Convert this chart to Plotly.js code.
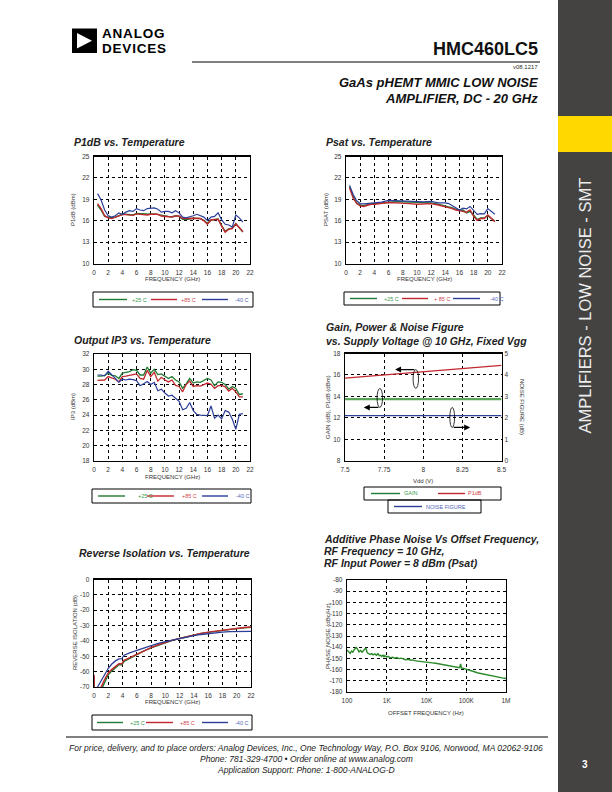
<!DOCTYPE html>
<html><head><meta charset="utf-8">
<script src="https://cdn.plot.ly/plotly-3.0.1.min.js"></script>
<style>html,body{margin:0;padding:0;background:#fff}#page{width:612px;height:792px}</style>
</head><body><div id="page"></div>
<script>
// ---------------- DATA ----------------
const tempNames = ['+25 C', '+85 C', '-40 C'];

// P1dB vs Temperature (GHz, dBm)
const p1Freq = [0.5,1,1.5,2,2.5,3,3.5,4,4.5,5,5.5,6,6.5,7,7.5,8,8.5,9,9.5,10,10.5,11,11.5,12,12.5,13,13.5,14,14.5,15,15.5,16,16.5,17,17.5,18,18.5,19,19.5,20,20.5,21];
const p1_25 = [18.2,17.5,16.6,16.5,16.4,16.5,16.7,16.9,16.9,16.85,16.8,17.0,16.95,16.9,16.85,16.9,16.95,16.85,16.7,16.6,16.6,16.55,16.7,16.6,16.2,16.15,16.3,16.35,16.35,16.3,16.05,15.6,16.1,16.15,16.25,15.3,14.5,14.85,14.95,15.6,15.05,14.4];
const p1_85 = [18.4,17.7,16.7,16.4,16.3,16.45,16.65,16.85,16.85,16.75,16.75,16.95,16.9,16.85,16.8,16.9,16.9,16.9,16.65,16.55,16.55,16.5,16.65,16.65,16.3,16.3,16.35,16.35,16.3,16.3,16.0,15.5,16.1,16.1,16.2,15.25,14.4,14.8,14.9,15.55,15.0,14.5];
const p1_m40 = [19.8,18.9,17.5,16.7,16.5,16.7,17.1,16.9,17.2,17.4,17.3,17.7,17.5,17.4,17.7,17.7,17.8,17.6,17.2,17.3,17.3,17.1,17.4,17.1,16.5,16.4,16.5,16.7,16.9,16.7,16.5,16.0,16.5,16.6,17.1,16.1,15.5,15.4,15.1,16.8,16.4,15.8];

// Psat vs Temperature
const psFreq = [0.5,1,1.5,2,2.5,3,3.5,4,5,6,7,8,9,10,11,12,13,14,14.5,15,15.5,16,16.5,17,17.5,18,18.5,19,19.5,20,20.5,21];
const ps_25 = [20.8,19.4,18.5,18.2,18.1,18.3,18.4,18.4,18.5,18.65,18.65,18.65,18.6,18.5,18.45,18.5,18.3,18.1,18.0,17.8,17.6,17.45,17.5,17.1,17.3,16.8,16.15,16.4,16.4,16.7,16.3,15.95];
const ps_85 = [20.6,19.2,18.4,18.1,18.0,18.2,18.3,18.3,18.4,18.55,18.5,18.5,18.4,18.3,18.3,18.4,18.2,18.0,17.9,17.7,17.5,17.35,17.3,17.2,17.5,16.6,16.05,16.3,16.3,16.8,16.3,15.85];
const ps_m40 = [20.95,19.7,18.8,18.4,18.35,18.4,18.55,18.55,18.6,18.85,18.8,18.8,18.8,18.7,18.65,18.7,18.5,18.5,18.4,18.1,17.8,17.5,17.75,17.65,18.0,17.45,16.9,17.0,16.95,17.7,17.35,16.9];

// Output IP3 vs Temperature
const ipFreq = [0.5,1,1.5,2,2.5,3,3.5,4,4.5,5,5.5,6,6.5,7,7.5,8,8.5,9,9.5,10,10.5,11,11.5,12,12.5,13,13.5,14,14.5,15,16,16.5,17,17.5,18,18.5,19,19.5,20,20.5,21];
const ip_25 = [29.1,29.1,29.2,29.5,29.2,29.15,28.8,29.5,29.6,29.7,29.95,29.85,29.25,29.25,30.3,29.5,30.0,29.3,29.4,29.1,28.8,29.05,28.6,28.35,27.5,28.1,28.8,28.2,28.35,28.3,28.8,28.6,27.85,28.35,28.3,28.0,27.4,27.75,27.5,26.7,26.8];
const ip_85 = [28.55,28.55,28.6,29.05,28.9,28.7,28.35,29.05,29.1,29.25,29.3,29.4,28.8,28.7,29.85,29.05,29.6,28.45,28.95,28.6,28.35,28.6,27.9,27.75,27.05,28.0,28.45,27.75,27.85,27.8,28.2,28.05,27.5,27.85,27.9,27.7,27.15,27.5,27.05,26.4,26.4];
const ip_m40 = [29.25,29.25,29.15,29.75,29.3,28.8,28.3,28.7,28.6,28.7,28.65,28.5,27.85,28.1,28.4,28.0,28.3,27.2,27.4,26.9,26.5,26.6,26.2,25.8,24.7,24.9,25.65,24.6,24.1,24.0,23.95,25.2,23.6,24.0,23.5,24.6,24.4,23.5,22.15,24.1,24.2];

// Gain, Power & Noise Figure vs Supply Voltage
const vdd = [7.5, 7.75, 8.0, 8.25, 8.5];
const vddTickText = ['7.5', '7.75', '8', '8.25', '8.5'];
const gainDb = [13.75, 13.75, 13.75, 13.75, 13.75];
const p1dbDbm = [15.7, 16.0, 16.3, 16.6, 16.9];
const nfDb = [2.1, 2.1, 2.1, 2.1, 2.1];
const gainNames = ['GAIN', 'P1dB', 'NOISE FIGURE'];

// Reverse Isolation vs Temperature
const riFreq_25 = [0,0.05,1.0,1.2,1.5,2,2.5,3,3.5,3.9,4.2,4.5,5,6,7,8,9,10,11,12,13,14,15,16,17,18,19,20,21,22];
const ri_25 = [-63,-76,-76,-70,-67,-62,-59.5,-57.4,-55.5,-55.6,-53.5,-52.6,-51.4,-48.7,-46.5,-44.5,-42.7,-41.1,-39.6,-38.4,-37.2,-36.2,-35.2,-34.4,-33.7,-33.1,-32.5,-32.0,-31.5,-31.1];
const riFreq_85 = [0,0.05,0.8,1.0,1.5,2,2.5,3,3.5,3.9,4.2,4.5,5,6,7,8,9,10,11,12,13,14,15,16,17,18,19,20,21,22];
const ri_85 = [-62,-76,-76,-70,-65,-60.9,-58.5,-56.5,-54.8,-54.9,-52.6,-52.0,-50.9,-48.3,-46.2,-44.3,-42.5,-40.9,-39.5,-38.3,-37.1,-36.1,-35.1,-34.3,-33.6,-33.0,-32.3,-31.7,-31.3,-30.9];
const riFreq_m40 = [0.5,1,1.5,2,2.5,3,3.5,3.9,4.2,4.5,5,6,7,8,9,10,11,12,13,14,15,16,17,18,19,20,21,22];
const ri_m40 = [-70,-65.7,-61.3,-57.8,-55,-53,-51.7,-51.6,-49.3,-48.6,-47.8,-46.1,-44.5,-43,-41.6,-40.4,-39.3,-38.3,-37.4,-36.5,-35.8,-35.2,-34.7,-34.3,-34.0,-33.9,-33.8,-33.8];
const riTickVals = [0, -10, -20, -30, -40, -50, -60, -70];
const riTickText = ['0', '-10', '-20', '-30', '-40', '-50', '-60', '-70'];

// Additive phase noise (Hz, dBc/Hz)
const pnFreq = [100,110,120,130,140,150,160,170,180,190,200,220,240,260,280,300,320,350,380,420,450,500,550,600,650,700,750,800,850,900,1000,1100,1200,1400,1600,1800,2000,2300,2600,3000,3500,4000,4500,5000,6000,7000,8000,9000,10000,12000,14000,17000,20000,23000,26000,30000,35000,40000,45000,50000,56000,62000,68000,72000,76000,85000,100000,130000,160000,200000,250000,300000,400000,500000,650000,800000,1000000];
const pnVal = [-142.5,-144.5,-145.5,-143.5,-144.5,-142.5,-141.5,-140.2,-141,-143.5,-144.2,-143,-144.5,-143,-141.5,-140.6,-144.8,-145.5,-146.5,-145.8,-146.8,-146,-147.2,-145.8,-147.5,-147.2,-148.3,-146.8,-148.8,-147.5,-148.8,-148.2,-149.5,-149,-149.8,-149.3,-150.2,-149.8,-150.6,-151.2,-150.8,-151.6,-151.3,-152,-152.4,-152.8,-152.5,-153.2,-153.1,-153.6,-154,-154.3,-154.8,-155.1,-155.5,-156,-156.3,-156.7,-157.1,-157.2,-157.8,-157.6,-158.2,-155,-158.6,-158.9,-159.5,-160.8,-161.9,-163,-163.8,-164.3,-165.4,-166,-166.8,-167.4,-167.9];
const pnTickVals = [100, 1000, 10000, 100000, 1000000];
const pnTickText = ['100', '1K', '10K', '100K', '1M'];
const pnYTickVals = [-80, -90, -100, -110, -120, -130, -140, -150, -160, -170, -180];
const pnYTickText = ['-80', '-90', '-100', '-110', '-120', '-130', '-140', '-150', '-160', '-170', '-180'];

// ---------------- LAYOUT HELPERS ----------------
const W = 612, H = 792;
const X = p => p / W, Y = p => 1 - p / H;
const F = 'Liberation Sans, Arial, Helvetica, sans-serif';
const GREEN = '#1f7a32', RED = '#c1272d', BLUE = '#2c3e98';
const GREEN_T = '#3a9a4a', RED_T = '#d0454a', BLUE_T = '#5466b8';
const tickF = {family: F, size: 6.5, color: '#333'};

function dom(px0, px1, py0, py1) { return {x: [X(px0), X(px1)], y: [Y(py1), Y(py0)]}; }
function ax(domain, anchor, extra) {
  return Object.assign({domain: domain, anchor: anchor, showline: true, mirror: true, linecolor: '#000', linewidth: 1.3,
    showgrid: true, gridcolor: '#000', gridwidth: 1, griddash: 'dot', zeroline: false, ticks: '',
    tickfont: tickF, fixedrange: true, ticklabelstandoff: 2}, extra);
}

const traces = [];
function addLine(x, y, xa, ya, color, width, name) {
  traces.push({type: 'scatter', mode: 'lines', x: x, y: y, xaxis: xa, yaxis: ya, name: name,
    line: {color: color, width: width}, hoverinfo: 'skip', showlegend: false});
}

// chart frames (pixel boxes)
const d1 = dom(94, 250, 156.5, 263.5);
const d2 = dom(346, 502, 156.5, 263.5);
const d3 = dom(94, 250, 354, 461);
const d4 = dom(345, 501.5, 353.5, 460.7);
const d5 = dom(94, 251, 579.5, 687);
const d6 = dom(347, 506, 580, 692);

const layout = {
  width: W, height: H, margin: {l: 0, r: 0, t: 0, b: 0},
  paper_bgcolor: '#fff', plot_bgcolor: '#fff', showlegend: false,
  font: {family: F},
  xaxis: ax(d1.x, 'y', {range: [0, 22], dtick: 2, tick0: 0}),
  yaxis: ax(d1.y, 'x', {range: [10, 25], dtick: 3, tick0: 10}),
  xaxis2: ax(d2.x, 'y2', {range: [0, 22], dtick: 2, tick0: 0}),
  yaxis2: ax(d2.y, 'x2', {range: [10, 25], dtick: 3, tick0: 10}),
  xaxis3: ax(d3.x, 'y3', {range: [0, 22], dtick: 2, tick0: 0}),
  yaxis3: ax(d3.y, 'x3', {range: [18, 32], dtick: 2, tick0: 18}),
  xaxis4: ax(d4.x, 'y4', {range: [7.5, 8.5], tickvals: vdd, ticktext: vddTickText}),
  yaxis4: ax(d4.y, 'x4', {range: [8, 18], dtick: 2, tick0: 8}),
  yaxis7: ax(d4.y, 'x4', {range: [0, 5], dtick: 1, tick0: 0, overlaying: 'y4', side: 'right', showgrid: false, showline: false}),
  xaxis5: ax(d5.x, 'y5', {range: [0, 22], dtick: 2, tick0: 0}),
  yaxis5: ax(d5.y, 'x5', {range: [-70, 0], tickvals: riTickVals, ticktext: riTickText}),
  xaxis6: ax(d6.x, 'y6', {type: 'log', range: [2, 6], tickvals: pnTickVals, ticktext: pnTickText}),
  yaxis6: ax(d6.y, 'x6', {range: [-180, -80], tickvals: pnYTickVals, ticktext: pnYTickText}),
  shapes: [], annotations: []
};

// ---------------- TRACES ----------------
addLine(p1Freq, p1_25, 'x', 'y', GREEN, 1.4, tempNames[0]);
addLine(p1Freq, p1_85, 'x', 'y', RED, 1.4, tempNames[1]);
addLine(p1Freq, p1_m40, 'x', 'y', BLUE, 1.2, tempNames[2]);

addLine(psFreq, ps_25, 'x2', 'y2', GREEN, 1.4, tempNames[0]);
addLine(psFreq, ps_85, 'x2', 'y2', RED, 1.4, tempNames[1]);
addLine(psFreq, ps_m40, 'x2', 'y2', BLUE, 1.2, tempNames[2]);

addLine(ipFreq, ip_25, 'x3', 'y3', GREEN, 1.3, tempNames[0]);
addLine(ipFreq, ip_85, 'x3', 'y3', RED, 1.3, tempNames[1]);
addLine(ipFreq, ip_m40, 'x3', 'y3', BLUE, 1.2, tempNames[2]);

addLine(vdd, gainDb, 'x4', 'y4', '#5aa55a', 2.2, gainNames[0]);
addLine(vdd, p1dbDbm, 'x4', 'y4', RED, 1.3, gainNames[1]);
addLine(vdd, nfDb, 'x4', 'y7', BLUE, 1.3, gainNames[2]);

addLine(riFreq_25, ri_25, 'x5', 'y5', GREEN, 1.4, tempNames[0]);
addLine(riFreq_85, ri_85, 'x5', 'y5', RED, 1.4, tempNames[1]);
addLine(riFreq_m40, ri_m40, 'x5', 'y5', BLUE, 1.3, tempNames[2]);

addLine(pnFreq, pnVal, 'x6', 'y6', '#2a8a2a', 1.4, 'Phase Noise');

// ---------------- DECORATION ----------------
const S = layout.shapes, A = layout.annotations;
function rect(x0, y0, x1, y1, fill, lineColor, lw) {
  S.push({type: 'rect', xref: 'paper', yref: 'paper', x0: X(x0), x1: X(x1), y0: Y(y1), y1: Y(y0),
    fillcolor: fill || 'rgba(0,0,0,0)', line: {color: lineColor || 'rgba(0,0,0,0)', width: lw || 0}, layer: 'above'});
}
function hline(x0, x1, y, color, w) {
  S.push({type: 'line', xref: 'paper', yref: 'paper', x0: X(x0), x1: X(x1), y0: Y(y), y1: Y(y), line: {color: color, width: w}});
}
function txt(text, x, y, size, opts) {
  A.push(Object.assign({text: text, x: X(x), y: Y(y), xref: 'paper', yref: 'paper', showarrow: false,
    xanchor: 'left', yanchor: 'middle', font: {family: F, size: size, color: '#222'}}, opts || {}));
}

// sidebar
rect(558, 0, 612, 792, '#444342');
rect(558, 116, 612, 152, '#ffd800');
txt('AMPLIFIERS - LOW NOISE - SMT', 584.5, 306, 16.5, {xanchor: 'center', textangle: -90, font: {family: F, size: 16.5, color: '#ececec'}});
txt('<b>3</b>', 585, 764, 10, {xanchor: 'center', font: {family: F, size: 10, color: '#fff'}});

// header
rect(72, 28.5, 97, 53, '#000');
S.push({type: 'path', xref: 'paper', yref: 'paper', fillcolor: '#fff', line: {width: 0},
  path: 'M' + X(77) + ',' + Y(33) + ' L' + X(92) + ',' + Y(40.75) + ' L' + X(77) + ',' + Y(48.5) + ' Z'});
const logoF = {family: F, size: 13.5, color: '#000'};
txt('<b><span style="letter-spacing:0.8px">ANALOG</span></b>', 100, 33.5, 13.5, {font: logoF});
txt('<b><span style="letter-spacing:0.8px">DEVICES</span></b>', 100, 49, 13.5, {font: logoF});
txt('<b>HMC460LC5</b>', 540, 49, 18, {xanchor: 'right', font: {family: F, size: 18, color: '#111'}});
hline(192, 540, 62, '#000', 1);
txt('v08.1217', 540, 67.5, 6, {xanchor: 'right', font: {family: F, size: 6, color: '#333'}});
txt('<b><i>GaAs pHEMT MMIC LOW NOISE</i></b>', 540, 82, 13, {xanchor: 'right', font: {family: F, size: 13, color: '#111'}});
txt('<b><i>AMPLIFIER, DC - 20 GHz</i></b>', 540, 98.5, 13, {xanchor: 'right', font: {family: F, size: 13, color: '#111'}});

// chart titles
const tF = 10.5;
txt('<b><i>P1dB vs. Temperature</i></b>', 72, 142, tF);
txt('<b><i>Psat vs. Temperature</i></b>', 324, 142, tF);
txt('<b><i>Output IP3 vs. Temperature</i></b>', 72, 340, tF);
txt('<b><i>Gain, Power &amp; Noise Figure</i></b>', 324, 327, tF);
txt('<b><i>vs. Supply Voltage @ 10 GHz, Fixed Vgg</i></b>', 324, 341, tF);
txt('<b><i>Reverse Isolation vs. Temperature</i></b>', 77, 553, tF);
txt('<b><i>Additive Phase Noise Vs Offset Frequency,</i></b>', 322, 539, tF);
txt('<b><i>RF Frequency = 10 GHz,</i></b>', 322, 551, tF);
txt('<b><i>RF Input Power = 8 dBm (Psat)</i></b>', 322, 563, tF);

// axis titles
const aF = {family: F, size: 6, color: '#333'};
function xt(text, cx, y) { txt(text, cx, y, 6, {xanchor: 'center', font: aF}); }
function yt(text, x, cy, ang) { txt(text, x, cy, 6, {xanchor: 'center', textangle: ang || -90, font: aF}); }
xt('FREQUENCY (GHz)', 172, 279); yt('P1dB (dBm)', 73, 210);
xt('FREQUENCY (GHz)', 424, 279); yt('PSAT (dBm)', 326, 210);
xt('FREQUENCY (GHz)', 172, 477); yt('IP3 (dBm)', 73, 407);
xt('Vdd (V)', 423, 481); yt('GAIN (dB), P1dB (dBm)', 328, 407); yt('NOISE FIGURE (dB)', 522, 407, 90);
xt('FREQUENCY (GHz)', 172, 702); yt('REVERSE ISOLATION (dB)', 75, 633);
xt('OFFSET FREQUENCY (Hz)', 426, 713); yt('PHASE NOISE (dBc/Hz)', 328, 636);

// legends (boxes drawn around sample lines)
function legend(box, items) {
  rect(box[0], box[1], box[2], box[3], 'rgba(0,0,0,0)', '#000', 1);
  const cy = (box[1] + box[3]) / 2;
  items.forEach(it => {
    hline(it[0], it[1], cy, it[3], 1.4);
    txt(it[4], it[2], cy, 5.5, {font: {family: F, size: 5.5, color: it[5]}});
  });
}
legend([93, 292, 253, 307], [[99, 127, 130, GREEN, tempNames[0], GREEN_T], [151, 177, 179, RED, tempNames[1], RED_T], [202, 228, 233, BLUE, tempNames[2], BLUE_T]]);
legend([344, 292, 500, 305], [[350, 377, 382, GREEN, tempNames[0], GREEN_T], [402, 428, 432, RED, '+ 85 C', RED_T], [453, 480, 488, BLUE, tempNames[2], BLUE_T]]);
legend([92, 489, 251, 503], [[98, 125, 136, GREEN, tempNames[0], GREEN_T], [147, 174, 180, RED, tempNames[1], RED_T], [202, 228, 234, BLUE, tempNames[2], BLUE_T]]);
legend([364, 487, 501, 500], [[371, 400, 402, GREEN, gainNames[0], GREEN_T], [438, 465, 466, RED, gainNames[1], RED_T]]);
legend([388, 500, 481, 513], [[394, 422, 424, BLUE, gainNames[2], BLUE_T]]);
legend([92, 715, 252, 730], [[97, 123, 128, GREEN, tempNames[0], GREEN_T], [146, 173, 178, RED, tempNames[1], RED_T], [202, 228, 233, BLUE, tempNames[2], BLUE_T]]);

// gain chart markers: ellipses and arrows
function ell(x0, x1, y0, y1) {
  S.push({type: 'circle', xref: 'x4', yref: 'y4', x0: x0, x1: x1, y0: y0, y1: y1, line: {color: '#000', width: 0.8}});
}
function arrow(xFrom, xTo, y) {
  A.push({x: xTo, y: y, ax: xFrom, ay: y, xref: 'x4', yref: 'y4', axref: 'x4', ayref: 'y4', text: '',
    showarrow: true, arrowhead: 2, arrowsize: 1, arrowwidth: 1.2, arrowcolor: '#000'});
}
ell(7.935, 7.97, 14.75, 16.5); arrow(7.953, 7.82, 16.5);
ell(7.705, 7.74, 12.97, 14.74); arrow(7.723, 7.62, 12.97);
ell(8.17, 8.2, 11.1, 12.97); arrow(8.185, 8.3, 11.1);

// bottom rule & footer
hline(66, 548, 737, '#000', 1);
const fF = {family: F, size: 8.5, color: '#222'};
txt('<i>For price, delivery, and to place orders: Analog Devices, Inc., One Technology Way, P.O. Box 9106, Norwood, MA 02062-9106</i>', 306, 748, 8.5, {xanchor: 'center', font: fF});
txt('<i>Phone: 781-329-4700 \u2022 Order online at www.analog.com</i>', 306, 759, 8.5, {xanchor: 'center', font: fF});
txt('<i>Application Support: Phone: 1-800-ANALOG-D</i>', 306, 770, 8.5, {xanchor: 'center', font: fF});

Plotly.newPlot('page', traces, layout, {staticPlot: true, displayModeBar: false});
</script></body></html>
